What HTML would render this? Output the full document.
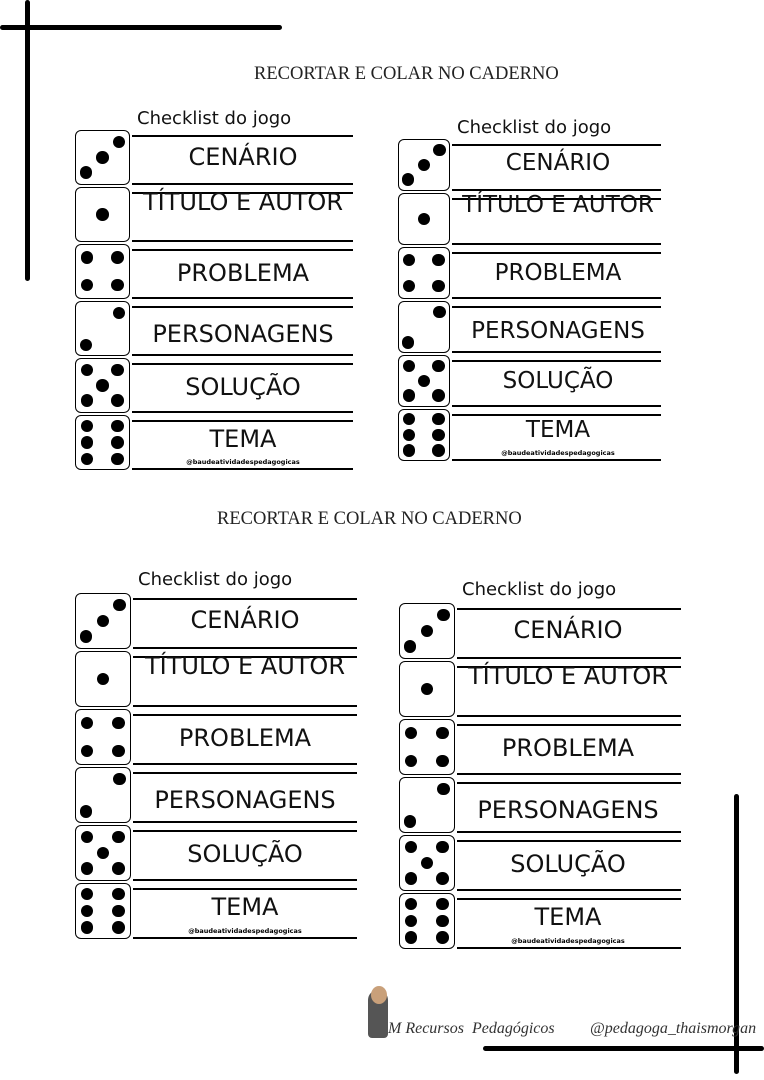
<!DOCTYPE html>
<html><head><meta charset="utf-8"><style>
body{margin:0;width:764px;height:1080px;background:#fff;position:relative;overflow:hidden;font-family:"DejaVu Sans","Liberation Sans",sans-serif}
.a{position:absolute}
.bar{position:absolute;background:#000;border-radius:3px}
.die{position:absolute;border:1.5px solid #000;border-radius:6px;box-sizing:border-box;background:#fff}
.pip{position:absolute;width:12.5px;height:12.5px;border-radius:50%;background:#000}
.ln{position:absolute;height:2px;background:#000}
.lab{position:absolute;text-align:center;color:#111;white-space:nowrap}
.ttl{position:absolute;font-family:"Liberation Serif",serif;font-size:18.5px;color:#222;white-space:nowrap}
.ck{position:absolute;font-size:18px;color:#111;white-space:nowrap}
.wm{position:absolute;font-size:6.5px;font-weight:bold;text-align:center;white-space:nowrap}
.sc{position:absolute;font-family:"Liberation Serif",serif;font-style:italic;font-size:16px;color:#333;white-space:nowrap}
</style></head><body>
<div class="bar" style="left:0;top:25px;width:282px;height:5px"></div>
<div class="bar" style="left:25px;top:0;width:5px;height:281px"></div>
<div class="bar" style="left:734px;top:794px;width:5px;height:280px"></div>
<div class="bar" style="left:483px;top:1046px;width:281px;height:5px"></div>
<div class="ttl" style="left:254px;top:64px">RECORTAR E COLAR NO CADERNO</div>
<div class="ttl" style="left:217px;top:509px">RECORTAR E COLAR NO CADERNO</div>
<div class="sc" style="left:388px;top:1020px">M Recursos &nbsp;Pedagógicos</div>
<div class="sc" style="left:590px;top:1020px">@pedagoga_thaismorgan</div>
<div class="a" style="left:368px;top:990px;width:20px;height:48px;background:#555;border-radius:10px 10px 4px 4px"></div>
<div class="a" style="left:371px;top:986px;width:16px;height:18px;background:#c9a07a;border-radius:50%"></div>
<div id="root"></div>
<script>
var cards=[
 {x:75,y:130,s:57,end:353,cx:243,ck:[137,108],fs:24},
 {x:398,y:139,s:54,end:661,cx:558,ck:[457,117],fs:23},
 {x:75,y:593,s:58,end:357,cx:245,ck:[138,569],fs:24},
 {x:399,y:603,s:58,end:681,cx:568,ck:[462,579],fs:24}];
var labs=["CENÁRIO","TÍTULO E AUTOR","PROBLEMA","PERSONAGENS","SOLUÇÃO","TEMA"];
var off=[0,-12,2,6,2,-3];
var pips=[[[.2,.78],[.5,.5],[.8,.22]],[[.5,.5]],[[.22,.25],[.78,.25],[.22,.75],[.78,.75]],[[.8,.22],[.2,.8]],[[.22,.22],[.78,.22],[.5,.5],[.22,.78],[.78,.78]],[[.22,.2],[.78,.2],[.22,.5],[.78,.5],[.22,.8],[.78,.8]]];
var h="";
cards.forEach(function(c){
 h+='<div class="ck" style="left:'+c.ck[0]+'px;top:'+c.ck[1]+'px">Checklist do jogo</div>';
 for(var i=0;i<6;i++){
  var y=c.y+i*c.s, d=c.s-2;
  h+='<div class="die" style="left:'+c.x+'px;top:'+y+'px;width:'+d+'px;height:'+d+'px">';
  pips[i].forEach(function(p){h+='<div class="pip" style="left:'+(p[0]*d-7.5)+'px;top:'+(p[1]*d-7.5)+'px"></div>';});
  h+='</div>';
  var lx=c.x+d+2;
  h+='<div class="ln" style="left:'+lx+'px;top:'+(y+5)+'px;width:'+(c.end-lx)+'px"></div>';
  h+='<div class="ln" style="left:'+lx+'px;top:'+(y+d-2)+'px;width:'+(c.end-lx)+'px"></div>';
  h+='<div class="lab" style="left:'+(c.cx-150)+'px;width:300px;top:'+(y+d/2-15+off[i])+'px;font-size:'+c.fs+'px">'+labs[i]+'</div>';
 }
 var yb=c.y+5*c.s+c.s-14;
 h+='<div class="wm" style="left:'+(c.cx-100)+'px;width:200px;top:'+yb+'px">@baudeatividadespedagogicas</div>';
});
document.getElementById('root').innerHTML=h;
</script>
</body></html>
